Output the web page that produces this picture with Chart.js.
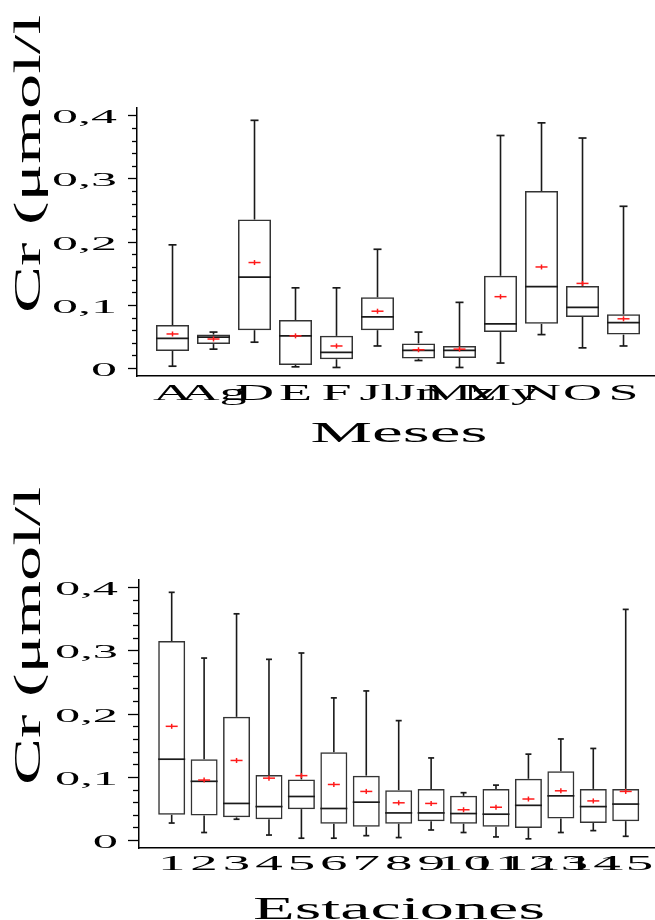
<!DOCTYPE html>
<html>
<head>
<meta charset="utf-8">
<script src="https://cdn.jsdelivr.net/npm/chart.js@4/dist/chart.umd.min.js"></script>
<style>
  html, body { margin: 0; padding: 0; background: #fff; }
  canvas { display: block; }
</style>
</head>
<body>
<canvas id="chartMeses" width="655" height="460"></canvas>
<canvas id="chartEstaciones" width="655" height="460"></canvas>
<script>
// Cr (µmol/l) por mes: mínimo, Q1, mediana, Q3, máximo y media
const meses       = ['A', 'Ag', 'D', 'E', 'F', 'Jl', 'Jn', 'Mz', 'My', 'N', 'O', 'S'];
const mesesMin    = [0.003, 0.030, 0.041, 0.002, 0.001, 0.035, 0.012, 0.001, 0.008, 0.053, 0.032, 0.035];
const mesesQ1     = [0.027, 0.038, 0.060, 0.005, 0.014, 0.060, 0.015, 0.016, 0.057, 0.070, 0.081, 0.053];
const mesesMed    = [0.047, 0.049, 0.144, 0.051, 0.025, 0.081, 0.028, 0.028, 0.070, 0.129, 0.096, 0.072];
const mesesQ3     = [0.068, 0.053, 0.235, 0.076, 0.051, 0.112, 0.039, 0.035, 0.146, 0.280, 0.130, 0.085];
const mesesMax    = [0.195, 0.057, 0.392, 0.127, 0.127, 0.188, 0.057, 0.104, 0.368, 0.388, 0.364, 0.256];
const mesesMedia  = [0.054, 0.046, 0.167, 0.051, 0.035, 0.090, 0.029, 0.030, 0.113, 0.160, 0.134, 0.078];

// Cr (µmol/l) por estación de muestreo
const estaciones  = ['1', '2', '3', '4', '5', '6', '7', '8', '9', '10', '11', '12', '13', '14', '15'];
const estMin      = [0.027, 0.012, 0.033, 0.008, 0.003, 0.003, 0.007, 0.004, 0.016, 0.012, 0.005, 0.002, 0.012, 0.015, 0.006];
const estQ1       = [0.040, 0.039, 0.036, 0.033, 0.049, 0.026, 0.021, 0.026, 0.030, 0.026, 0.021, 0.019, 0.034, 0.027, 0.030];
const estMed      = [0.128, 0.093, 0.058, 0.053, 0.069, 0.050, 0.060, 0.043, 0.043, 0.042, 0.041, 0.055, 0.070, 0.053, 0.057];
const estQ3       = [0.315, 0.128, 0.195, 0.103, 0.096, 0.139, 0.102, 0.079, 0.081, 0.070, 0.081, 0.097, 0.109, 0.081, 0.081];
const estMax      = [0.392, 0.288, 0.358, 0.286, 0.296, 0.225, 0.236, 0.189, 0.130, 0.075, 0.087, 0.136, 0.160, 0.145, 0.365];
const estMedia    = [0.180, 0.095, 0.126, 0.098, 0.102, 0.088, 0.077, 0.059, 0.058, 0.048, 0.052, 0.065, 0.078, 0.062, 0.077];

// Eje Y común
const yTickValues = [0, 0.1, 0.2, 0.3, 0.4];
const yTickLabels = ['0', '0,1', '0,2', '0,3', '0,4'];
const yMinorStep  = 0.02;

const SERIF = '"Liberation Serif", "DejaVu Serif", serif';
const INK = '#1a1a1a';
const RED = '#ff1a1a';

// Texto ensanchado a lo largo de su línea de lectura
function stretchedText(ctx, text, x, y, fontPx, sx, align, rotation) {
  ctx.save();
  ctx.font = fontPx + 'px ' + SERIF;
  ctx.translate(x, y);
  if (rotation) ctx.rotate(rotation);
  ctx.scale(sx, 1);
  ctx.textAlign = align;
  ctx.textBaseline = 'alphabetic';
  ctx.fillStyle = '#000';
  ctx.fillText(text, 0, 0);
  ctx.restore();
}

function fitStretch(ctx, text, fontPx, targetWidth) {
  ctx.save();
  ctx.font = fontPx + 'px ' + SERIF;
  const w = ctx.measureText(text).width;
  ctx.restore();
  return targetWidth / w;
}

function boxChart(canvasId, cats, mins, q1s, meds, q3s, maxs, means, L) {
  const pts = (arr) => arr.map((v, i) => ({ x: i, y: v }));
  const spans = (lo, hi) => lo.map((v, i) => ({ x: i, y: [v, hi[i]] }));

  const axisDecor = {
    id: 'axisDecor',
    afterDraw(chart) {
      const { ctx } = chart;
      const x = chart.scales.x, y = chart.scales.y;
      const axisX = chart.chartArea.left;

      // marcas mayores y menores del eje Y
      ctx.save();
      ctx.strokeStyle = '#000';
      ctx.lineWidth = 1.3;
      const nMinor = Math.round(yTickValues[yTickValues.length - 1] / yMinorStep);
      for (let k = 0; k <= nMinor; k++) {
        const v = k * yMinorStep;
        const py = Math.round(y.getPixelForValue(v)) + 0.5;
        const major = k % 5 === 0;
        ctx.beginPath();
        ctx.moveTo(axisX - (major ? L.majorLen : L.minorLen), py);
        ctx.lineTo(axisX, py);
        ctx.stroke();
      }
      ctx.restore();

      // etiquetas del eje Y
      const sy = fitStretch(ctx, '0,4', L.yFont, L.yLabelWidth);
      yTickValues.forEach((v, i) => {
        const py = y.getPixelForValue(v);
        stretchedText(ctx, yTickLabels[i], L.yLabelRight, py + L.yLabelDrop, L.yFont, sy, 'right');
      });

      // etiquetas del eje X
      cats.forEach((c, i) => {
        stretchedText(ctx, c, x.getPixelForValue(i), L.xLabelBase, L.xFont, L.xStretch, 'center');
      });

      // título del eje Y (vertical)
      const yTitle = 'Cr (μmol/l';
      const st = fitStretch(ctx, yTitle, L.yTitleFont, L.yTitleLen);
      stretchedText(ctx, yTitle, L.yTitleX, L.yTitleStart, L.yTitleFont, st, 'left', -Math.PI / 2);

      // título del eje X
      const sxT = fitStretch(ctx, L.xTitle, L.xTitleFont, L.xTitleWidth);
      stretchedText(ctx, L.xTitle, L.xTitleCenter, L.xTitleBase, L.xTitleFont, sxT, 'center');
    }
  };

  const lineMark = (data, color, radius, width, rotation) => ({
    type: 'scatter',
    data,
    pointStyle: 'line',
    pointRadius: radius,
    pointHoverRadius: radius,
    pointRotation: rotation || 0,
    borderColor: color,
    pointBorderColor: color,
    pointBorderWidth: width,
    borderWidth: width,
    clip: false
  });

  const barPart = (data, thickness, fill, border, bw) => ({
    type: 'bar',
    data,
    grouped: false,
    barThickness: thickness,
    maxBarThickness: thickness,
    backgroundColor: fill,
    borderColor: border,
    borderWidth: bw,
    borderSkipped: false,
    inflateAmount: 0
  });

  return new Chart(document.getElementById(canvasId), {
    type: 'bar',
    data: {
      datasets: [
        lineMark(pts(means), RED, L.meanHalf, 1.5, 0),
        lineMark(pts(means), RED, L.meanVHalf, 1.5, 90),
        lineMark(pts(meds), INK, L.boxW / 2, 1.7, 0),
        lineMark(pts(mins), INK, L.capHalf, 1.7, 0),
        lineMark(pts(maxs), INK, L.capHalf, 1.7, 0),
        barPart(spans(q1s, q3s), L.boxW, 'rgba(255,255,255,0)', '#333', 1.5),
        barPart(spans(mins, q1s), 1.6, INK, INK, 0),
        barPart(spans(q3s, maxs), 1.6, INK, INK, 0)
      ]
    },
    options: {
      responsive: false,
      animation: false,
      events: [],
      layout: { autoPadding: false, padding: { top: L.top, left: 0, right: 0, bottom: 0 } },
      plugins: { legend: { display: false }, tooltip: { enabled: false } },
      scales: {
        x: {
          type: 'linear',
          offset: false,
          min: L.xMin,
          max: L.xMax,
          grid: { display: false, offset: false },
          ticks: { display: false },
          border: { display: true, color: '#000', width: 1.5 },
          afterFit(s) { s.height = L.xAxisH; }
        },
        y: {
          type: 'linear',
          min: -0.0125,
          max: 0.4115,
          grid: { display: false },
          ticks: { display: false },
          border: { display: true, color: '#000', width: 1.5 },
          afterFit(s) { s.width = L.left; }
        }
      }
    },
    plugins: [axisDecor]
  });
}

boxChart('chartMeses', meses, mesesMin, mesesQ1, mesesMed, mesesQ3, mesesMax, mesesMedia, {
  top: 108, left: 137, xAxisH: 84,
  xMin: -0.866, xMax: 11.768,
  boxW: 33, capHalf: 4, meanHalf: 6, meanVHalf: 2.5,
  majorLen: 9, minorLen: 5,
  yFont: 18, yLabelWidth: 65, yLabelRight: 117, yLabelDrop: 8,
  xFont: 23, xStretch: 2.35, xLabelBase: 400,
  yTitleFont: 37, yTitleLen: 298, yTitleX: 40, yTitleStart: 313,
  xTitle: 'Meses', xTitleFont: 30, xTitleWidth: 177, xTitleCenter: 399, xTitleBase: 442
});

boxChart('chartEstaciones', estaciones, estMin, estQ1, estMed, estQ3, estMax, estMedia, {
  top: 120, left: 139, xAxisH: 72,
  xMin: -1.008, xMax: 14.903,
  boxW: 27, capHalf: 3, meanHalf: 6, meanVHalf: 2.5,
  majorLen: 11, minorLen: 6,
  yFont: 18, yLabelWidth: 63, yLabelRight: 118, yLabelDrop: 8,
  xFont: 22, xStretch: 2.5, xLabelBase: 410,
  yTitleFont: 37, yTitleLen: 298, yTitleX: 40, yTitleStart: 325,
  xTitle: 'Estaciones', xTitleFont: 32, xTitleWidth: 292, xTitleCenter: 399, xTitleBase: 459
});
</script>
</body>
</html>
